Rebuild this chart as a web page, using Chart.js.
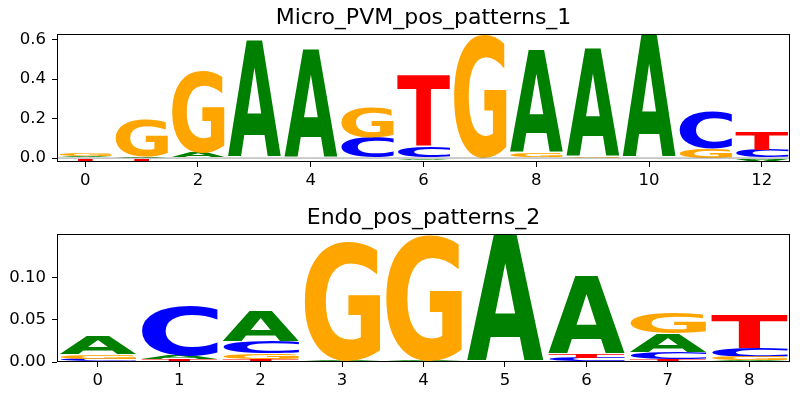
<!DOCTYPE html>
<html>
<head>
<meta charset="utf-8">
<script src="https://cdn.jsdelivr.net/npm/chart.js@4.4.0/dist/chart.umd.min.js"></script>
<style>
    body { margin: 0; background: #fff; }
    canvas { display: block; }
</style>
</head>
<body>
<canvas id="logo1" width="800" height="200"></canvas>
<canvas id="logo2" width="800" height="200"></canvas>
<script>
const letters = ['A', 'C', 'G', 'T']
const letterColors = { A: '#008000', C: '#0000ff', G: '#ffa500', T: '#ff0000' }

// Micro_PVM_pos_patterns_1
const microTitle = 'Micro_PVM_pos_patterns_1'
const microPositions = [0, 1, 2, 3, 4, 5, 6, 7, 8, 9, 10, 11, 12]
const microA = [0.006, 0.004, 0.025, 0.600, 0.550, 0.002, -0.005, 0.000, 0.518, 0.547, 0.623, -0.004, -0.018]
const microC = [0.004, 0.002, 0.003, 0.000, 0.000, 0.105, 0.060, 0.000, 0.003, 0.002, 0.000, 0.190, 0.040]
const microG = [0.012, 0.190, 0.415, 0.000, 0.000, 0.147, 0.000, 0.626, 0.020, 0.006, 0.000, 0.048, 0.000]
const microT = [-0.030, -0.017, -0.003, 0.000, -0.002, 0.000, 0.360, 0.000, 0.000, 0.000, 0.000, 0.002, 0.093]
const microXTicks = [0, 2, 4, 6, 8, 10, 12]
const microYTicks = [0, 0.2, 0.4, 0.6]

// Endo_pos_patterns_2
const endoTitle = 'Endo_pos_patterns_2'
const endoPositions = [0, 1, 2, 3, 4, 5, 6, 7, 8]
const endoA = [0.022, 0.004, 0.036, 0.002, 0.002, 0.151, 0.092, 0.022, 0.002]
const endoC = [0.004, 0.059, 0.014, 0.000, 0.000, 0.000, 0.0045, 0.008, 0.011]
const endoG = [0.005, 0.000, 0.006, 0.140, 0.148, 0.000, 0.000, 0.024, 0.004]
const endoT = [0.000, 0.003, 0.004, 0.000, 0.000, -0.001, 0.005, 0.004, 0.038]
const endoXTicks = [0, 1, 2, 3, 4, 5, 6, 7, 8]
const endoYTicks = [0, 0.05, 0.10]

// stack letters at each position: positives upward from 0 (smallest first), negatives downward
function buildStacks(positions, values) {
    let out = { A: [], C: [], G: [], T: [] }
    positions.forEach(function (pos, i) {
        let up = letters.filter(l => values[l][i] > 0).sort((a, b) => values[a][i] - values[b][i])
        let down = letters.filter(l => values[l][i] < 0).sort((a, b) => values[b][i] - values[a][i])
        let top = 0
        up.forEach(function (l) {
            out[l].push({ x: pos, y: [top, top + values[l][i]] })
            top += values[l][i]
        })
        let bottom = 0
        down.forEach(function (l) {
            out[l].push({ x: pos, y: [bottom + values[l][i], bottom] })
            bottom += values[l][i]
        })
    })
    return out
}

function drawGlyph(ctx, ch, color, x, y, w, h, flip) {
    if (h <= 0 || w <= 0) return
    ctx.save()
    ctx.font = 'bold 100px "DejaVu Sans"'
    ctx.textAlign = 'left'
    ctx.textBaseline = 'alphabetic'
    let m = ctx.measureText(ch)
    let gw = m.actualBoundingBoxLeft + m.actualBoundingBoxRight
    let gh = m.actualBoundingBoxAscent + m.actualBoundingBoxDescent
    ctx.translate(x, flip ? y + h : y)
    ctx.scale(w / gw, (flip ? -h : h) / gh)
    ctx.fillStyle = color
    ctx.fillText(ch, m.actualBoundingBoxLeft, m.actualBoundingBoxAscent)
    ctx.restore()
}

const glyphPlugin = {
    id: 'glyphs',
    afterDatasetsDraw(chart) {
        let ctx = chart.ctx
        let area = chart.chartArea
        ctx.save()
        ctx.beginPath()
        ctx.rect(area.left, area.top, area.right - area.left, area.bottom - area.top)
        ctx.clip()
        chart.data.datasets.forEach(function (ds, di) {
            let meta = chart.getDatasetMeta(di)
            meta.data.forEach(function (bar, i) {
                let p = bar.getProps(['x', 'y', 'base', 'width'], true)
                let raw = ds.data[i].y
                drawGlyph(ctx, ds.label, letterColors[ds.label], p.x - p.width / 2,
                    Math.min(p.y, p.base), p.width, Math.abs(p.base - p.y), raw[0] < 0)
            })
        })
        // zero baseline
        let y0 = chart.scales.y.getPixelForValue(0)
        ctx.strokeStyle = '#808080'
        ctx.lineWidth = 0.8
        ctx.beginPath()
        ctx.moveTo(area.left, y0)
        ctx.lineTo(area.right, y0)
        ctx.stroke()
        ctx.restore()
    },
    afterDraw(chart) {
        let ctx = chart.ctx
        let a = chart.chartArea
        ctx.save()
        ctx.strokeStyle = '#000'
        ctx.lineWidth = 1
        ctx.strokeRect(Math.round(a.left) + 0.5, Math.round(a.top) + 0.5,
            Math.round(a.right - a.left) - 1, Math.round(a.bottom - a.top) - 1)
        ctx.restore()
    }
}

function makeLogo(canvasId, title, positions, values, xTicks, yTicks, yMin, yMax, yDigits) {
    let stacks = buildStacks(positions, values)
    let tickFont = { family: 'DejaVu Sans', size: 16.5 }
    return new Chart(document.getElementById(canvasId).getContext('2d'), {
        type: 'bar',
        data: {
            datasets: letters.map(l => ({
                label: l,
                data: stacks[l],
                backgroundColor: 'rgba(0,0,0,0)',
                borderWidth: 0,
                grouped: false,
                barPercentage: 0.94,
                categoryPercentage: 1
            }))
        },
        options: {
            responsive: false,
            animation: false,
            events: [],
            layout: { padding: { left: 0, right: 10, top: 0, bottom: 0 } },
            scales: {
                x: {
                    type: 'linear',
                    min: -0.5,
                    max: positions.length - 0.5,
                    offset: false,
                    afterBuildTicks: function (scale) {
                        scale.ticks = xTicks.map(v => ({ value: v }))
                    },
                    afterFit: function (scale) { scale.height = 38 },
                    ticks: {
                        font: tickFont,
                        color: '#000',
                        padding: 4,
                        maxRotation: 0,
                        autoSkip: false,
                        callback: v => String(v)
                    },
                    grid: { offset: false, drawOnChartArea: false, tickLength: 5, color: '#000' },
                    border: { display: false }
                },
                y: {
                    min: yMin,
                    max: yMax,
                    afterBuildTicks: function (scale) {
                        scale.ticks = yTicks.map(v => ({ value: v }))
                    },
                    afterFit: function (scale) { scale.width = 57 },
                    ticks: {
                        font: tickFont,
                        color: '#000',
                        padding: 6,
                        callback: v => v.toFixed(yDigits)
                    },
                    grid: { drawOnChartArea: false, tickLength: 5, color: '#000' },
                    border: { display: false }
                }
            },
            plugins: {
                legend: { display: false },
                tooltip: { enabled: false },
                title: {
                    display: true,
                    text: title,
                    fullSize: false,
                    color: '#000',
                    font: { family: 'DejaVu Sans', size: 22, weight: 'normal' },
                    padding: { top: 5, bottom: 2.6 }
                }
            }
        },
        plugins: [glyphPlugin]
    })
}

makeLogo('logo1', microTitle, microPositions,
    { A: microA, C: microC, G: microG, T: microT },
    microXTicks, microYTicks, -0.02, 0.628, 1)

makeLogo('logo2', endoTitle, endoPositions,
    { A: endoA, C: endoC, G: endoG, T: endoT },
    endoXTicks, endoYTicks, 0, 0.151, 2)
</script>
</body>
</html>
